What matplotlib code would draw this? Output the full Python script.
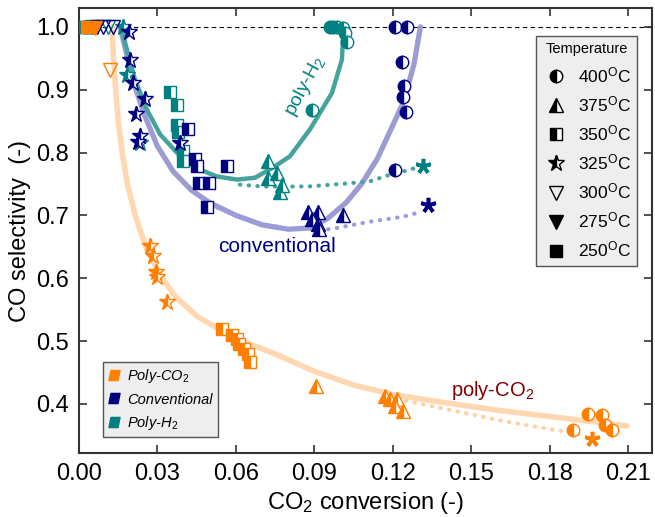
import matplotlib
matplotlib.use("Agg")
import matplotlib.pyplot as plt
from matplotlib.lines import Line2D
from matplotlib.path import Path

plt.rcParams['font.family'] = ['Liberation Sans', 'DejaVu Sans']
plt.rcParams['mathtext.fontset'] = 'custom'
plt.rcParams['mathtext.rm'] = 'Liberation Sans'
plt.rcParams['mathtext.it'] = 'Liberation Sans:italic'

# ---------------- colours ----------------
C_CO2, C_CONV, C_H2 = '#FF7F00', '#000080', '#008080'

# ---------------- data: Poly-CO2 ----------------
co2_400_x = [0.1945, 0.2000, 0.2010, 0.2037, 0.1890]
co2_400_y = [0.384, 0.383, 0.367, 0.359, 0.359]
co2_375_x = [0.0906, 0.1170, 0.1190, 0.1215, 0.1207, 0.1240]
co2_375_y = [0.429, 0.413, 0.408, 0.408, 0.397, 0.389]
co2_350_x = [0.0546, 0.0585, 0.0604, 0.0611, 0.0630, 0.0646, 0.0653]
co2_350_y = [0.519, 0.510, 0.503, 0.495, 0.487, 0.479, 0.467]
co2_325_x = [0.0271, 0.0283, 0.0294, 0.0298, 0.0336]
co2_325_y = [0.651, 0.635, 0.610, 0.602, 0.562]
co2_300_x = [0.0118]
co2_300_y = [0.932]
co2_275_x = [0.0060]
co2_275_y = [0.998]
co2_250_x = [0.0030]
co2_250_y = [1.000]
co2_eq_x = [0.1960]
co2_eq_y = [0.344]

# ---------------- data: Conventional ----------------
conv_400_x = [0.1207, 0.1253, 0.1234, 0.1242, 0.1238, 0.1250, 0.1207]
conv_400_y = [1.000, 1.000, 0.944, 0.906, 0.889, 0.865, 0.773]
conv_375_x = [0.0875, 0.0913, 0.0890, 0.0913, 0.0917, 0.1009]
conv_375_y = [0.705, 0.705, 0.694, 0.687, 0.678, 0.700]
conv_350_x = [0.0417, 0.0443, 0.0451, 0.0566, 0.0459, 0.0497, 0.0489]
conv_350_y = [0.837, 0.789, 0.778, 0.779, 0.752, 0.752, 0.714]
conv_325_x = [0.0191, 0.0195, 0.0206, 0.0252, 0.0218, 0.0233, 0.0225, 0.0386]
conv_325_y = [0.992, 0.948, 0.911, 0.886, 0.862, 0.827, 0.817, 0.816]
conv_300_x = [0.0090, 0.0130]
conv_300_y = [1.000, 1.000]
conv_275_x = [0.0070]
conv_275_y = [1.000]
conv_250_x = [0.0040]
conv_250_y = [1.000]
conv_eq_x = [0.1334]
conv_eq_y = [0.716]

# ---------------- data: Poly-H2 ----------------
h2_400_x = [0.0959, 0.0971, 0.0986, 0.1009, 0.1016, 0.1024, 0.0890]
h2_400_y = [1.000, 1.000, 1.000, 0.998, 0.990, 0.976, 0.868]
h2_375_x = [0.0722, 0.0722, 0.0757, 0.0768, 0.0776]
h2_375_y = [0.786, 0.760, 0.768, 0.738, 0.749]
h2_350_x = [0.0348, 0.0374, 0.0374, 0.0378, 0.0397, 0.0397]
h2_350_y = [0.897, 0.876, 0.844, 0.832, 0.802, 0.786]
h2_325_x = [0.0168, 0.0183, 0.0233]
h2_325_y = [1.000, 0.924, 0.816]
h2_300_x = [0.0110]
h2_300_y = [1.000]
h2_275_x = [0.0050]
h2_275_y = [1.000]
h2_250_x = [0.0010, 0.0025, 0.0040]
h2_250_y = [1.000, 1.000, 1.000]
h2_eq_x = [0.1315]
h2_eq_y = [0.778]

# ---------------- trend curves ----------------
co2_fit_x = [0.0126, 0.0132, 0.0140, 0.0150, 0.0165, 0.0185, 0.0215, 0.0255, 0.031,
             0.037, 0.045, 0.055, 0.065, 0.077, 0.090, 0.105, 0.120, 0.140, 0.160,
             0.180, 0.200, 0.2094]
co2_fit_y = [1.000, 0.950, 0.900, 0.850, 0.800, 0.750, 0.700, 0.650, 0.605,
             0.570, 0.540, 0.515, 0.496, 0.476, 0.452, 0.430, 0.415, 0.402, 0.390,
             0.380, 0.370, 0.365]
co2_dot_x = [0.125, 0.140, 0.162, 0.180, 0.193]
co2_dot_y = [0.405, 0.392, 0.373, 0.360, 0.351]

conv_fit_x = [0.0157, 0.018, 0.021, 0.025, 0.030, 0.036, 0.043, 0.050, 0.060, 0.070,
              0.080, 0.088, 0.095, 0.102, 0.108, 0.114, 0.119, 0.124, 0.128, 0.1305]
conv_fit_y = [1.000, 0.960, 0.910, 0.860, 0.810, 0.770, 0.740, 0.720, 0.700, 0.685,
              0.678, 0.680, 0.695, 0.720, 0.750, 0.790, 0.835, 0.880, 0.940, 1.000]
conv_dot_x = [0.053, 0.062, 0.070, 0.080, 0.096, 0.111, 0.124, 0.131]
conv_dot_y = [0.712, 0.697, 0.686, 0.679, 0.678, 0.690, 0.698, 0.706]

h2_fit_x = [0.0160, 0.0214, 0.0260, 0.0310, 0.0374, 0.0462, 0.0527, 0.0604, 0.0673,
            0.0741, 0.0806, 0.0883, 0.0967, 0.1005, 0.1009]
h2_fit_y = [1.000, 0.916, 0.868, 0.829, 0.800, 0.773, 0.762, 0.757, 0.760,
            0.776, 0.794, 0.837, 0.895, 0.948, 0.984]
h2_dot_x = [0.0615, 0.070, 0.080, 0.0875, 0.100, 0.111, 0.119, 0.124, 0.129]
h2_dot_y = [0.749, 0.746, 0.746, 0.746, 0.750, 0.754, 0.765, 0.770, 0.776]

temps = ['400', '375', '350', '325', '300', '275', '250']

# ---------------- figure ----------------
fig = plt.figure(figsize=(6.55, 5.17), dpi=100)
ax = fig.add_axes([0.1206, 0.1238, 0.8748, 0.8607])
ax.set_xlim(0, 0.219)
ax.set_ylim(0.322, 1.03)

ax.axhline(1.0, color='black', lw=0.8, ls=(0, (4, 3)), zorder=1)

ax.plot(co2_fit_x, co2_fit_y, color='#FFD7B0', lw=4, solid_capstyle='round', zorder=2)
ax.plot(conv_fit_x, conv_fit_y, color='#9C9CD2', lw=3.8, solid_capstyle='round', zorder=2)
ax.plot(h2_fit_x, h2_fit_y, color='#45A39C', lw=3.2, solid_capstyle='round', zorder=2)

ax.plot(co2_dot_x, co2_dot_y, color='#FFD0A0', lw=3, ls=(0, (0.1, 2.0)),
        dash_capstyle='round', zorder=2)
ax.plot(conv_dot_x, conv_dot_y, color='#9C9CE0', lw=3, ls=(0, (0.1, 2.0)),
        dash_capstyle='round', zorder=2)
ax.plot(h2_dot_x, h2_dot_y, color='#45A3A3', lw=3, ls=(0, (0.1, 2.0)),
        dash_capstyle='round', zorder=2)

marker_specs = {
    '400': dict(marker='o', ms=9, fillstyle='left'),
    '375': dict(marker='^', ms=10, fillstyle='left'),
    '350': dict(marker='s', ms=8.5, fillstyle='left'),
    '325': dict(marker='*', ms=12, fillstyle='left'),
    '300': dict(marker='v', ms=10, fillstyle='none'),
    '275': dict(marker='v', ms=10, fillstyle='full'),
    '250': dict(marker='s', ms=8.5, fillstyle='full'),
}

series = [
    (C_H2, [(h2_250_x, h2_250_y), (h2_275_x, h2_275_y), (h2_300_x, h2_300_y),
            (h2_325_x, h2_325_y), (h2_350_x, h2_350_y), (h2_375_x, h2_375_y),
            (h2_400_x, h2_400_y)]),
    (C_CONV, [(conv_250_x, conv_250_y), (conv_275_x, conv_275_y), (conv_300_x, conv_300_y),
              (conv_325_x, conv_325_y), (conv_350_x, conv_350_y), (conv_375_x, conv_375_y),
              (conv_400_x, conv_400_y)]),
    (C_CO2, [(co2_250_x, co2_250_y), (co2_275_x, co2_275_y), (co2_300_x, co2_300_y),
             (co2_325_x, co2_325_y), (co2_350_x, co2_350_y), (co2_375_x, co2_375_y),
             (co2_400_x, co2_400_y)]),
]
order = ['250', '275', '300', '325', '350', '375', '400']
for col, sets in series:
    for t, (xs, ys) in zip(order, sets):
        spec = marker_specs[t]
        for xv, yv in zip(xs, ys):
            ax.plot([xv], [yv], linestyle='none', color=col, markeredgecolor=col,
                    markerfacecoloralt='white', markeredgewidth=1.0, zorder=4, **spec)

ast = (5, 2, 0)
for col, xs, ys in [(C_CO2, co2_eq_x, co2_eq_y), (C_CONV, conv_eq_x, conv_eq_y),
                    (C_H2, h2_eq_x, h2_eq_y)]:
    ax.plot(xs, ys, linestyle='none', marker=ast, ms=11, mew=2.6, color=col, zorder=4)

# annotations
ax.text(0.0865, 0.905, 'poly-H$_2$', color=C_H2, fontsize=14, rotation=62,
        ha='center', va='center')
ax.text(0.0755, 0.650, 'conventional', color=C_CONV, fontsize=15, ha='center', va='center')
ax.text(0.158, 0.422, 'poly-CO$_2$', color='#800000', fontsize=14.5, ha='center', va='center')

# axes styling
ax.set_xticks([0.00, 0.03, 0.06, 0.09, 0.12, 0.15, 0.18, 0.21])
ax.set_xticklabels(['0.00', '0.03', '0.06', '0.09', '0.12', '0.15', '0.18', '0.21'])
ax.set_yticks([0.4, 0.5, 0.6, 0.7, 0.8, 0.9, 1.0])
ax.set_yticklabels(['0.4', '0.5', '0.6', '0.7', '0.8', '0.9', '1.0'])
ax.tick_params(direction='in', length=6, width=1.2, top=True, right=True,
               labelsize=17, colors='#333333', labelcolor='black', pad=7)
for sp in ax.spines.values():
    sp.set_color('#333333')
    sp.set_linewidth(1.5)
ax.set_xlabel('CO$_2$ conversion (-)', fontsize=17, labelpad=4)
ax.set_ylabel('CO selectivity  (-)', fontsize=17, labelpad=4)

# temperature legend
temp_handles = []
for t in temps:
    spec = marker_specs[t]
    temp_handles.append(Line2D([], [], linestyle='none', color='black', markeredgecolor='black',
                               markerfacecoloralt='white', markeredgewidth=1.0, **spec))
temp_labels = [t + r'$^{\mathrm{O}}$C' for t in temps]
leg1 = ax.legend(temp_handles, temp_labels, title='Temperature', loc='upper right',
                 bbox_to_anchor=(0.974, 0.937), borderaxespad=0.0,
                 fontsize=12.5, title_fontsize=10.5,
                 frameon=True, fancybox=False, edgecolor='#555555', facecolor='#EEEEEE',
                 framealpha=1, labelspacing=0.53, handletextpad=0.5, borderpad=0.35,
                 handlelength=1.6)
leg1.get_frame().set_linewidth(1.0)
ax.add_artist(leg1)

para = Path([(-0.55, -0.5), (0.35, -0.5), (0.55, 0.5), (-0.35, 0.5), (-0.55, -0.5)],
            [Path.MOVETO, Path.LINETO, Path.LINETO, Path.LINETO, Path.CLOSEPOLY])
ser_handles = [Line2D([], [], linestyle='none', marker=para, ms=8, color=c, mec=c)
               for c in [C_CO2, C_CONV, C_H2]]
ser_labels = ['Poly-CO$_2$', 'Conventional', 'Poly-H$_2$']
leg2 = ax.legend(ser_handles, ser_labels, loc='lower left', bbox_to_anchor=(0.042, 0.036),
                 borderaxespad=0.0,
                 prop={'size': 10.5, 'style': 'italic'}, frameon=True, fancybox=False,
                 edgecolor='#555555', facecolor='#EEEEEE', framealpha=1,
                 handlelength=0.8, handletextpad=0.5, labelspacing=0.5, borderpad=0.35)
leg2.get_frame().set_linewidth(1.0)
for txt in leg2.get_texts():
    txt.set_fontstyle('italic')

fig.savefig('out.png', dpi=100)
